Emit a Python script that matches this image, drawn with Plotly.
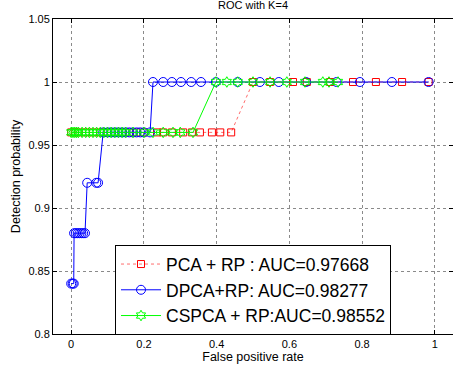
import plotly.graph_objects as go

# PCA + RP
pca_fpr = [0.0, 0.01, 0.02, 0.04, 0.06, 0.08, 0.10, 0.12, 0.14, 0.16, 0.18, 0.20, 0.236, 0.253,
           0.277, 0.308, 0.332, 0.354, 0.387, 0.41, 0.44,
           0.50, 0.547, 0.61, 0.648, 0.712, 0.775, 0.838, 0.91, 0.983]
pca_tpr = [0.96] * 21 + [1.0] * 9

# DPCA + RP
dpca_fpr = [0.0, 0.004, 0.007,
            0.008, 0.013, 0.018, 0.023, 0.028, 0.033, 0.038,
            0.044, 0.069, 0.074,
            0.088, 0.10, 0.11, 0.12, 0.13, 0.14, 0.15, 0.16, 0.17, 0.18, 0.19, 0.20, 0.217,
            0.225, 0.253, 0.277, 0.302, 0.330, 0.357, 0.398, 0.458, 0.519, 0.571, 0.646,
            0.730, 0.794, 0.882, 0.983]
dpca_tpr = [0.84] * 3 + [0.88] * 7 + [0.92] * 3 + [0.96] * 13 + [1.0] * 15

# CSPCA + RP
cspca_fpr = [0.0, 0.005, 0.01, 0.015, 0.02, 0.03, 0.04, 0.05, 0.06, 0.07, 0.08, 0.09, 0.10,
             0.11, 0.12, 0.13, 0.14, 0.15, 0.17, 0.20, 0.225, 0.253, 0.28, 0.30, 0.335,
             0.398, 0.428, 0.458, 0.50, 0.547, 0.593, 0.643, 0.692, 0.709, 0.734]
cspca_tpr = [0.96] * 25 + [1.0] * 10

names = ["PCA + RP : AUC=0.97668", "DPCA+RP: AUC=0.98277", "CSPCA + RP:AUC=0.98552"]

x_ticks = [0, 0.2, 0.4, 0.6, 0.8, 1]
x_labels = ["0", "0.2", "0.4", "0.6", "0.8", "1"]
y_ticks = [0.8, 0.85, 0.9, 0.95, 1.0, 1.05]
y_labels = ["0.8", "0.85", "0.9", "0.95", "1", "1.05"]

fig = go.Figure()
fig.add_trace(go.Scatter(
    x=pca_fpr, y=pca_tpr, mode="lines+markers", name=names[0],
    line=dict(color="rgba(255,60,60,0.75)", width=1, dash="dot"),
    marker=dict(symbol="square-open", size=7, color="#ff0000", line=dict(width=1)),
))
fig.add_trace(go.Scatter(
    x=dpca_fpr, y=dpca_tpr, mode="lines+markers", name=names[1],
    line=dict(color="#0000ff", width=1),
    marker=dict(symbol="circle-open", size=9, color="#0000ff", line=dict(width=1)),
))
fig.add_trace(go.Scatter(
    x=cspca_fpr, y=cspca_tpr, mode="lines+markers", name=names[2],
    line=dict(color="#00ff00", width=1),
    marker=dict(symbol="hexagram-open", size=8, color="#00ff00", line=dict(width=1)),
))

axis_common = dict(
    showline=True, linecolor="black", linewidth=1, mirror="ticks",
    ticks="inside", ticklen=4, tickcolor="black",
    showgrid=True, gridcolor="#8a8a8a", griddash="dot", gridwidth=1,
    zeroline=False, tickfont=dict(size=11, color="black"), automargin=False,
)

fig.update_layout(
    width=453, height=375,
    margin=dict(l=53, r=0, t=19, b=41),
    paper_bgcolor="white", plot_bgcolor="white",
    font=dict(family="Liberation Sans, Arial, sans-serif", color="black", size=11),
    title=dict(text="ROC with K=4", x=0.5, xref="paper", xanchor="center",
               y=0.986, yanchor="middle", pad=dict(t=0, b=0), font=dict(size=11)),
    xaxis=dict(range=[-0.05, 1.05], tickvals=x_ticks, ticktext=x_labels,
               title=dict(text="False positive rate", font=dict(size=12.5), standoff=3),
               **axis_common),
    yaxis=dict(range=[0.8, 1.05], tickvals=y_ticks, ticktext=y_labels,
               title=dict(text="Detection probability", font=dict(size=12.5), standoff=5),
               **axis_common),
    legend=dict(x=0.155, y=0.282, xanchor="left", yanchor="top",
                bgcolor="white", bordercolor="black", borderwidth=1,
                font=dict(size=17.5), itemwidth=40, tracegroupgap=0),
    showlegend=True,
)

# remove the page's default 8px body margin so the figure sits at the window's corner
fig.write_html("out.html", config={"displayModeBar": False},
               post_script="document.body.style.margin='0px';")
